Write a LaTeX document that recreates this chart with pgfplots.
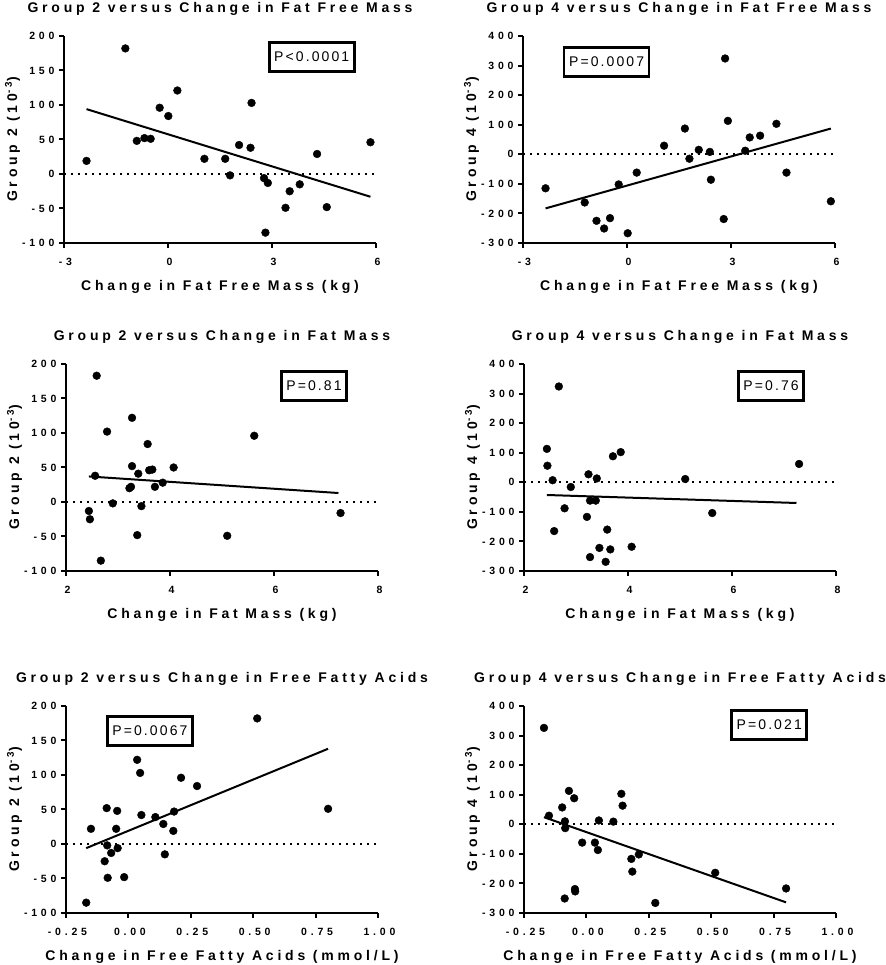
\documentclass[border=0pt]{standalone}
\usepackage{fontspec}
\setmainfont{Liberation Sans}
\newfontfamily\spc[LetterSpace=27]{Liberation Sans}
\newfontfamily\tspc[LetterSpace=36]{Liberation Sans}
\newfontfamily\pspc[LetterSpace=15]{Liberation Sans}
\usepackage{pgfplots}
\pgfplotsset{compat=1.18}

\pgfplotsset{
  panel/.style={
    scale only axis, width=312pt, height=207pt, anchor=south west,
    axis lines=left, axis line style={-, line width=2pt},
    tick align=outside, major tick length=5pt,
    tick style={line width=2pt, black},
    clip=false, enlargelimits=false,
    /pgf/number format/assume math mode=true,
    ticklabel style={font=\fontsize{10.5}{12}\tspc\bfseries},
    xticklabel style={yshift=-7pt, xshift=1.5pt},
    yticklabel style={xshift=-1pt},
    label style={font=\fontsize{14}{16}\spc\bfseries},
    title style={font=\fontsize{14}{16}\spc\bfseries, at={(axis description cs:0.5,1.104)}, anchor=center},
    xlabel style={at={(axis description cs:0.5,-0.214)}, anchor=center},
    ylabel style={at={(axis description cs:-0.165,0.5)}, anchor=center},
  },
  pts/.style={only marks, mark=*, mark size=3.9pt, black, mark options={fill=black}},
  fit/.style={black, line width=2pt, no marks},
  zero/.style={black, line width=2pt, dash pattern=on 2pt off 5pt, no marks},
}
\tikzset{
  pbox/.style={draw=black, line width=2.7pt, fill=white, font=\fontsize{14}{16}\pspc,
    inner xsep=5pt, minimum height=29pt},
}

\begin{document}
\begin{tikzpicture}
\useasboundingbox (0,0) rectangle (885pt,965pt);

% ---- row 1 ----
\begin{axis}[panel, at={(64pt,722pt)},
  title={Group 2 versus Change in Fat Free Mass},
  xlabel={Change in Fat Free Mass (kg)},
  ylabel={Group 2 (10\textsuperscript{-3})},
  xmin=-3, xmax=6, ymin=-100, ymax=200,
  xtick={-3,0,3,6}, xticklabels={-3,0,3,6},
  ytick={-100,-50,0,50,100,150,200}, yticklabels={-100,-50,0,50,100,150,200}]
\addplot[zero] coordinates {(-3,0) (6,0)};
\addplot[pts] coordinates {
  (-2.35,19) (-1.23,182) (-0.90,48) (-0.68,52) (-0.50,51) (-0.24,96) (0.01,84)
  (0.27,121) (1.05,22) (1.65,22) (1.79,-2) (2.05,42) (2.38,38) (2.41,103)
  (2.77,-6) (2.88,-13) (2.81,-85) (3.39,-49) (3.51,-25) (3.80,-15) (4.30,29)
  (4.58,-48) (5.84,46)};
\addplot[fit] coordinates {(-2.35,94) (5.84,-33)};
\node[pbox] at (rel axis cs:0.794,0.898) {P<0.0001};
\end{axis}

\begin{axis}[panel, at={(523pt,722pt)},
  title={Group 4 versus Change in Fat Free Mass},
  xlabel={Change in Fat Free Mass (kg)},
  ylabel={Group 4 (10\textsuperscript{-3})},
  xmin=-3, xmax=6, ymin=-300, ymax=400,
  xtick={-3,0,3,6}, xticklabels={-3,0,3,6},
  ytick={-300,-200,-100,0,100,200,300,400}, yticklabels={-300,-200,-100,0,100,200,300,400}]
\addplot[zero] coordinates {(-3,0) (6,0)};
\addplot[pts] coordinates {
  (-2.35,-115) (-1.22,-163) (-0.88,-225) (-0.66,-251) (-0.49,-216) (-0.24,-102)
  (0.02,-267) (0.28,-62) (1.07,29) (1.67,87) (1.80,-15) (2.07,15) (2.39,8)
  (2.42,-86) (2.79,-219) (2.83,324) (2.91,113) (3.41,12) (3.54,57) (3.84,63)
  (4.31,103) (4.60,-62) (5.88,-159)};
\addplot[fit] coordinates {(-2.35,-183) (5.88,87)};
\node[pbox] at (rel axis cs:0.268,0.875) {P=0.0007};
\end{axis}

% ---- row 2 ----
\begin{axis}[panel, at={(66pt,394pt)},
  title={Group 2 versus Change in Fat Mass},
  xlabel={Change in Fat Mass (kg)},
  ylabel={Group 2 (10\textsuperscript{-3})},
  xmin=2, xmax=8, ymin=-100, ymax=200,
  xtick={2,4,6,8}, xticklabels={2,4,6,8},
  ytick={-100,-50,0,50,100,150,200}, yticklabels={-100,-50,0,50,100,150,200}]
\addplot[zero] coordinates {(2,0) (8,0)};
\addplot[pts] coordinates {
  (2.59,183) (2.79,102) (3.27,122) (2.56,38) (2.44,-13) (2.46,-25) (2.67,-85)
  (2.90,-2) (3.22,20) (3.25,22) (3.27,52) (3.39,41) (3.37,-48) (3.45,-6)
  (3.57,84) (3.60,46) (3.66,47) (3.71,22) (3.86,28) (4.07,50) (5.10,-49)
  (5.62,96) (7.28,-16)};
\addplot[fit] coordinates {(2.44,37) (7.24,13)};
\node[pbox] at (rel axis cs:0.795,0.894) {P=0.81};
\end{axis}

\begin{axis}[panel, at={(524pt,394pt)},
  title={Group 4 versus Change in Fat Mass},
  xlabel={Change in Fat Mass (kg)},
  ylabel={Group 4 (10\textsuperscript{-3})},
  xmin=2, xmax=8, ymin=-300, ymax=400,
  xtick={2,4,6,8}, xticklabels={2,4,6,8},
  ytick={-300,-200,-100,0,100,200,300,400}, yticklabels={-300,-200,-100,0,100,200,300,400}]
\addplot[zero] coordinates {(2,0) (8,0)};
\addplot[pts] coordinates {
  (2.44,113) (2.45,56) (2.55,7) (2.67,324) (2.58,-165) (2.78,-88) (2.90,-16)
  (3.21,-117) (3.24,27) (3.27,-62) (3.27,-253) (3.38,-62) (3.40,13) (3.45,-222)
  (3.57,-269) (3.60,-160) (3.66,-227) (3.71,88) (3.86,102) (4.07,-218)
  (5.10,11) (5.62,-104) (7.29,62)};
\addplot[fit] coordinates {(2.44,-43) (7.24,-70)};
\node[pbox] at (rel axis cs:0.792,0.894) {P=0.76};
\end{axis}

% ---- row 3 ----
\begin{axis}[panel, at={(66pt,52pt)},
  title={Group 2 versus Change in Free Fatty Acids},
  xlabel={Change in Free Fatty Acids (mmol/L)},
  ylabel={Group 2 (10\textsuperscript{-3})},
  xmin=-0.25, xmax=1, ymin=-100, ymax=200,
  xtick={-0.25,0,0.25,0.5,0.75,1}, xticklabels={-0.25,0.00,0.25,0.50,0.75,1.00},
  ytick={-100,-50,0,50,100,150,200}, yticklabels={-100,-50,0,50,100,150,200}]
\addplot[zero] coordinates {(-0.25,0) (1,0)};
\addplot[pts] coordinates {
  (-0.169,-85) (-0.150,22) (-0.095,-25) (-0.087,52) (-0.085,-2) (-0.083,-49)
  (-0.069,-13) (-0.049,22) (-0.045,48) (-0.043,-6) (-0.017,-48) (0.035,122)
  (0.047,103) (0.052,42) (0.108,39) (0.140,29) (0.146,-15) (0.180,19)
  (0.183,47) (0.211,96) (0.275,84) (0.516,182) (0.800,51)};
\addplot[fit] coordinates {(-0.169,-6) (0.800,138)};
\node[pbox] at (rel axis cs:0.269,0.879) {P=0.0067};
\end{axis}

\begin{axis}[panel, at={(524pt,52pt)},
  title={Group 4 versus Change in Free Fatty Acids},
  xlabel={Change in Free Fatty Acids (mmol/L)},
  ylabel={Group 4 (10\textsuperscript{-3})},
  xmin=-0.25, xmax=1, ymin=-300, ymax=400,
  xtick={-0.25,0,0.25,0.5,0.75,1}, xticklabels={-0.25,0.00,0.25,0.50,0.75,1.00},
  ytick={-300,-200,-100,0,100,200,300,400}, yticklabels={-300,-200,-100,0,100,200,300,400}]
\addplot[zero] coordinates {(-0.25,0) (1,0)};
\addplot[pts] coordinates {
  (-0.170,326) (-0.150,29) (-0.097,57) (-0.086,10) (-0.085,-13) (-0.087,-251)
  (-0.070,113) (-0.049,88) (-0.046,-219) (-0.045,-227) (-0.017,-62) (0.034,-62)
  (0.046,-87) (0.050,13) (0.108,9) (0.140,103) (0.145,63) (0.180,-117)
  (0.184,-160) (0.210,-102) (0.276,-266) (0.516,-164) (0.800,-217)};
\addplot[fit] coordinates {(-0.170,24) (0.800,-264)};
\node[pbox] at (rel axis cs:0.786,0.908) {P=0.021};
\end{axis}
\end{tikzpicture}
\end{document}
